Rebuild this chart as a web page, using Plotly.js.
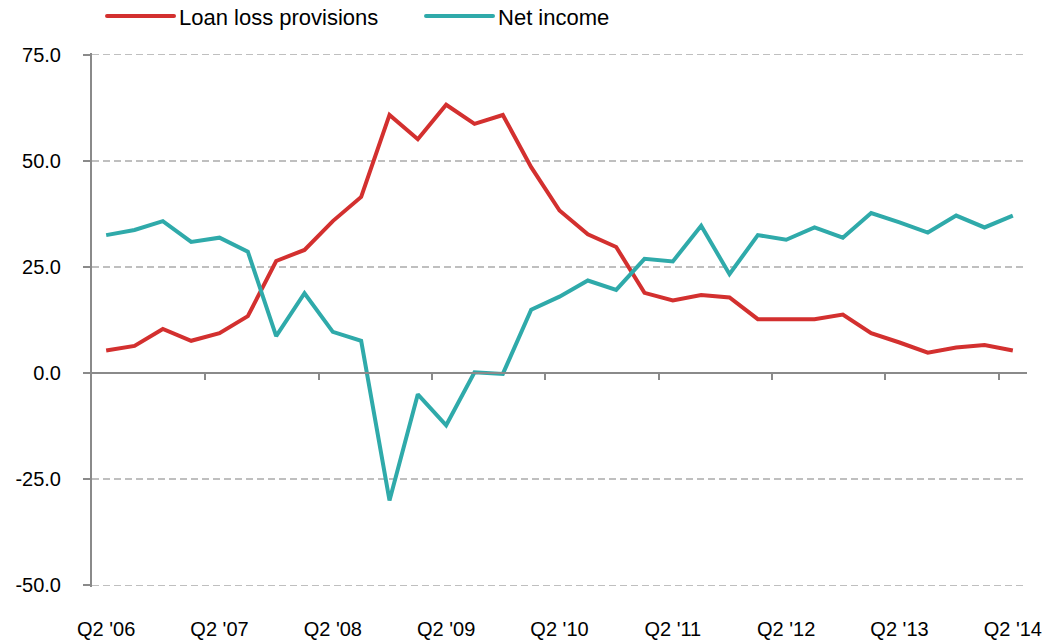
<!DOCTYPE html>
<html>
<head>
<meta charset="utf-8">
<script src="https://cdn.plot.ly/plotly-3.0.1.min.js"></script>
<style>
  html, body { margin: 0; padding: 0; background: #fff; }
  #chart { width: 1047px; height: 642px; }
</style>
</head>
<body>
<div id="chart"></div>
<script>
// Quarters Q2 '06 .. Q2 '14
const quarters = [
  "Q2 '06","Q3 '06","Q4 '06","Q1 '07","Q2 '07","Q3 '07","Q4 '07","Q1 '08",
  "Q2 '08","Q3 '08","Q4 '08","Q1 '09","Q2 '09","Q3 '09","Q4 '09","Q1 '10",
  "Q2 '10","Q3 '10","Q4 '10","Q1 '11","Q2 '11","Q3 '11","Q4 '11","Q1 '12",
  "Q2 '12","Q3 '12","Q4 '12","Q1 '13","Q2 '13","Q3 '13","Q4 '13","Q1 '14",
  "Q2 '14"
];
const loanLossProvisions = [
  5.3, 6.4, 10.4, 7.6, 9.4, 13.4, 26.4, 29.0,
  35.8, 41.5, 60.8, 55.1, 63.2, 58.7, 60.8, 48.5,
  38.3, 32.7, 29.7, 18.9, 17.1, 18.4, 17.8, 12.7,
  12.7, 12.7, 13.8, 9.4, 7.2, 4.8, 6.0, 6.6,
  5.3
];
const netIncome = [
  32.5, 33.7, 35.8, 30.9, 31.9, 28.6, 8.7, 18.8,
  9.7, 7.6, -30.0, -5.0, -12.3, 0.2, -0.2, 14.9,
  18.0, 21.8, 19.6, 26.9, 26.3, 34.7, 23.3, 32.5,
  31.4, 34.3, 31.9, 37.7, 35.5, 33.1, 37.1, 34.3,
  37.1
];
const xTickLabels = ["Q2 '06","Q2 '07","Q2 '08","Q2 '09","Q2 '10","Q2 '11","Q2 '12","Q2 '13","Q2 '14"];
const yTicks = [-50, -25, 0, 25, 50, 75];
const yTickLabels = ["-50.0", "-25.0", "0.0", "25.0", "50.0", "75.0"];

const RED = '#D3302F';
const TEAL = '#2FAAAA';
const AXIS = '#8A8A8A';
const FONT = '"Liberation Sans", Arial, sans-serif';

const n = quarters.length;
const boundaryTicks = [];
for (let i = 4; i < n; i += 4) boundaryTicks.push(i - 0.5);

const yRange = [-50.4, 75.4];
const zeroPos = (0 - yRange[0]) / (yRange[1] - yRange[0]);

const traces = [
  { x: quarters, y: loanLossProvisions, type: 'scatter', mode: 'lines',
    name: 'Loan loss provisions', line: { color: RED, width: 4 } },
  { x: quarters, y: netIncome, type: 'scatter', mode: 'lines',
    name: 'Net income', line: { color: TEAL, width: 4 } },
  { x: [null], y: [null], xaxis: 'x2', yaxis: 'y', type: 'scatter', mode: 'lines',
    showlegend: false, hoverinfo: 'skip' }
];

const layout = {
  width: 1047, height: 642,
  margin: { l: 92, r: 20, t: 53, b: 55, pad: 0, autoexpand: false },
  paper_bgcolor: '#fff', plot_bgcolor: '#fff',
  font: { family: FONT, size: 20, color: '#000' },
  showlegend: true,
  legend: {
    orientation: 'h', x: 0.0075, xanchor: 'left', y: 1.069, yanchor: 'middle',
    font: { family: FONT, size: 22, color: '#000' },
    itemwidth: 70,
    entrywidth: 234, entrywidthmode: 'pixels', bgcolor: 'rgba(0,0,0,0)'
  },
  xaxis: {
    type: 'category', range: [-0.5, n - 0.5],
    tickmode: 'array', tickvals: xTickLabels, ticktext: xTickLabels,
    ticks: '', showline: false, showgrid: false, zeroline: false,
    ticklabelstandoff: 28, tickfont: { family: FONT, size: 20, color: '#000' },
    fixedrange: true
  },
  xaxis2: {
    overlaying: 'x', anchor: 'free', position: zeroPos, side: 'bottom',
    type: 'linear', range: [-0.5, n - 0.5],
    tickmode: 'array', tickvals: boundaryTicks, showticklabels: false,
    ticks: 'outside', ticklen: 6, tickwidth: 2, tickcolor: AXIS,
    showline: true, linecolor: AXIS, linewidth: 2,
    showgrid: false, zeroline: false, fixedrange: true
  },
  yaxis: {
    range: yRange, tickmode: 'array', tickvals: yTicks, ticktext: yTickLabels,
    ticks: 'outside', ticklen: 7, tickwidth: 2, tickcolor: AXIS,
    showline: true, linecolor: AXIS, linewidth: 2,
    showgrid: true, gridcolor: '#BFBFBF', gridwidth: 1.5, griddash: '7px,4px',
    zeroline: false, ticklabelstandoff: 18,
    tickfont: { family: FONT, size: 20, color: '#000' },
    fixedrange: true
  }
};

function stretchLegendKeys() {
  document.querySelectorAll('g.legendlines path').forEach(function (p) {
    p.setAttribute('d', 'M8,0h67');
    p.style.strokeWidth = '4px';
    p.style.strokeLinecap = 'round';
  });
}

Plotly.newPlot('chart', traces, layout, { displayModeBar: false, staticPlot: true })
  .then(function () {
    stretchLegendKeys();
    setTimeout(stretchLegendKeys, 50);
    setTimeout(stretchLegendKeys, 300);
  });
</script>
</body>
</html>
